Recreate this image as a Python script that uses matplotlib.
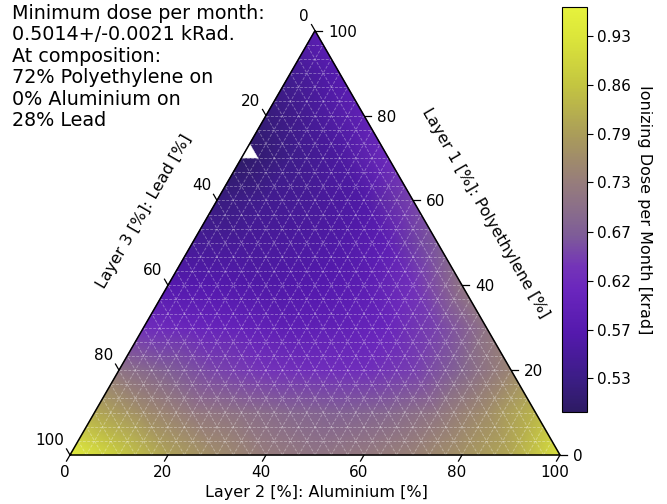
import numpy as np
import matplotlib
matplotlib.use("Agg")
import matplotlib.pyplot as plt
import matplotlib.tri as mtri
from matplotlib.colors import LinearSegmentedColormap, LogNorm
from matplotlib.ticker import FormatStrFormatter

# ---------------- data ----------------
# Dose per month [krad] at composition nodes, every 10 %.
# One list per Polyethylene level; entries run over Aluminium = 0,10,20,... (Lead = rest)
dose_pe000 = [0.96, 0.87, 0.80, 0.76, 0.73, 0.715, 0.725, 0.74, 0.77, 0.81, 0.92]
dose_pe010 = [0.81, 0.76, 0.725, 0.705, 0.69, 0.68, 0.69, 0.715, 0.76, 0.83]
dose_pe020 = [0.71, 0.675, 0.65, 0.635, 0.625, 0.625, 0.645, 0.685, 0.745]
dose_pe030 = [0.625, 0.61, 0.60, 0.59, 0.595, 0.61, 0.65, 0.715]
dose_pe040 = [0.57, 0.57, 0.565, 0.57, 0.585, 0.63, 0.715]
dose_pe050 = [0.545, 0.55, 0.555, 0.565, 0.59, 0.67]
dose_pe060 = [0.525, 0.54, 0.55, 0.565, 0.65]
dose_pe070 = [0.505, 0.535, 0.555, 0.62]
dose_pe080 = [0.52, 0.55, 0.595]
dose_pe090 = [0.54, 0.575]
dose_pe100 = [0.585]
dose_rows = [dose_pe000, dose_pe010, dose_pe020, dose_pe030, dose_pe040, dose_pe050,
             dose_pe060, dose_pe070, dose_pe080, dose_pe090, dose_pe100]
node_step = 10.0          # % between data nodes

grid_divisions = 30       # simulation grid (gridlines)
missing_cells = [(0, 21)]  # (Aluminium index, Polyethylene index) of up-triangles without result

tick_values = [0, 20, 40, 60, 80, 100]
dose_min, dose_max = 0.5014, 0.975
cbar_ticks = [0.530, 0.574, 0.622, 0.674, 0.731, 0.792, 0.858, 0.930]

info_text = ("Minimum dose per month:\n0.5014+/-0.0021 kRad.\nAt composition:\n"
             "72% Polyethylene on\n0% Aluminium on\n28% Lead")
bottom_label = "Layer 2 [%]: Aluminium [%]"
right_label = "Layer 1 [%]: Polyethylene [%]"
left_label = "Layer 3 [%]: Lead [%]"
cbar_label = "Ionizing Dose per Month [krad]"

cmap_stops = [(0.0, "#2d1b64"), (0.083, "#3c1d86"), (0.193, "#5419ad"), (0.30, "#6a26bd"),
              (0.36, "#7434b8"), (0.436, "#7e5c98"), (0.50, "#8a6e8a"), (0.565, "#967c7c"),
              (0.62, "#9f8a6c"), (0.684, "#aa9c5a"), (0.811, "#c4c640"), (0.929, "#dce63a"),
              (1.0, "#e6f23c")]

# ---------------- helpers ----------------
S3 = np.sqrt(3) / 2


def cart(al, pe):
    al = np.asarray(al, float)
    pe = np.asarray(pe, float)
    return al + pe / 2.0, pe * S3


W, H = 667, 504
PX = 4.9                       # pixels per % unit
X0, Y0 = 70, 455               # pixel of Lead=100 corner

fig = plt.figure(figsize=(W / 100, H / 100), dpi=100)
ax = fig.add_axes([0, 0, 1, 1])
ax.set_xlim(-X0 / PX, (W - X0) / PX)
ax.set_ylim(-(H - Y0) / PX, Y0 / PX)
ax.axis("off")

cmap = LinearSegmentedColormap.from_list("dose", cmap_stops)
norm = LogNorm(vmin=dose_min, vmax=dose_max)

# nodes
xs, ys, vals, index = [], [], [], {}
for p, row in enumerate(dose_rows):
    for a, v in enumerate(row):
        x, y = cart(a * node_step, p * node_step)
        index[(a, p)] = len(xs)
        xs.append(float(x)); ys.append(float(y)); vals.append(v)
n = len(dose_rows) - 1
tris = []
for p in range(n):
    for a in range(n - p):
        tris.append([index[(a, p)], index[(a + 1, p)], index[(a, p + 1)]])
        if a + p + 2 <= n:
            tris.append([index[(a + 1, p)], index[(a + 1, p + 1)], index[(a, p + 1)]])
tri = mtri.Triangulation(xs, ys, tris)
mesh = ax.tripcolor(tri, vals, shading="gouraud", cmap=cmap, norm=norm, zorder=1)

# missing cells
d = 100.0 / grid_divisions
for (a, p) in missing_cells:
    px, py = cart([a * d, (a + 1) * d, a * d], [p * d, p * d, (p + 1) * d])
    ax.fill(px, py, color="white", zorder=2, lw=0.3)

# gridlines
for k in range(1, grid_divisions):
    t = k * d
    for (a1, p1, a2, p2) in [(0, t, 100 - t, t), (t, 0, t, 100 - t), (100 - t, 0, 0, 100 - t)]:
        gx, gy = cart([a1, a2], [p1, p2])
        ax.plot(gx, gy, color="white", alpha=0.33, lw=0.7, ls=(0, (3, 1.5)), zorder=3)

# boundary
bx, by = cart([0, 100, 0, 0], [0, 0, 100, 0])
ax.plot(bx, by, color="black", lw=1.1, zorder=4, solid_joinstyle="miter")

off = 7 / PX
fs_tick = 11
for v in tick_values:
    # bottom (Aluminium)
    x, y = cart(v, 0)
    ax.plot([x, x - off / 2], [y, y - off * S3], color="black", lw=0.9, zorder=4)
    ax.text(x - 5 / PX, y - 22 / PX, f"{v}", ha="center", va="baseline", fontsize=fs_tick)
    # right (Polyethylene)
    x, y = cart(100 - v, v)
    ax.plot([x, x + off], [y, y], color="black", lw=0.9, zorder=4)
    ax.text(x + 13 / PX, y - 6 / PX, f"{v}", ha="left", va="baseline", fontsize=fs_tick)
    # left (Lead)
    x, y = cart(0, v)
    ax.plot([x, x - off / 2], [y, y + off * S3], color="black", lw=0.9, zorder=4)
    ax.text(x - 6 / PX, y + 10 / PX, f"{100 - v}", ha="right", va="baseline", fontsize=fs_tick)

# axis labels
ax.text((316 - X0) / PX, (Y0 - 493) / PX, bottom_label, ha="center", va="center", fontsize=11.5)
ax.text((485 - X0) / PX, (Y0 - 213) / PX, right_label, ha="center", va="center",
        rotation=-60, rotation_mode="anchor", fontsize=11.5)
ax.text((144 - X0) / PX, (Y0 - 212) / PX, left_label, ha="center", va="center",
        rotation=60, rotation_mode="anchor", fontsize=11.5)

fig.text(12 / W, 1 - 4 / H, info_text, ha="left", va="top", fontsize=13.8, linespacing=1.16)

# colorbar
cax = fig.add_axes([562 / W, (H - 412) / H, 25 / W, 405 / H])
cb = fig.colorbar(mesh, cax=cax)
cb.set_ticks(cbar_ticks)
cb.ax.yaxis.set_major_formatter(FormatStrFormatter("%.2f"))
cb.ax.minorticks_off()
cb.ax.tick_params(labelsize=11, length=4)
cb.set_label(cbar_label, rotation=270, fontsize=11.5, labelpad=15)

fig.savefig("out.png", dpi=100)
